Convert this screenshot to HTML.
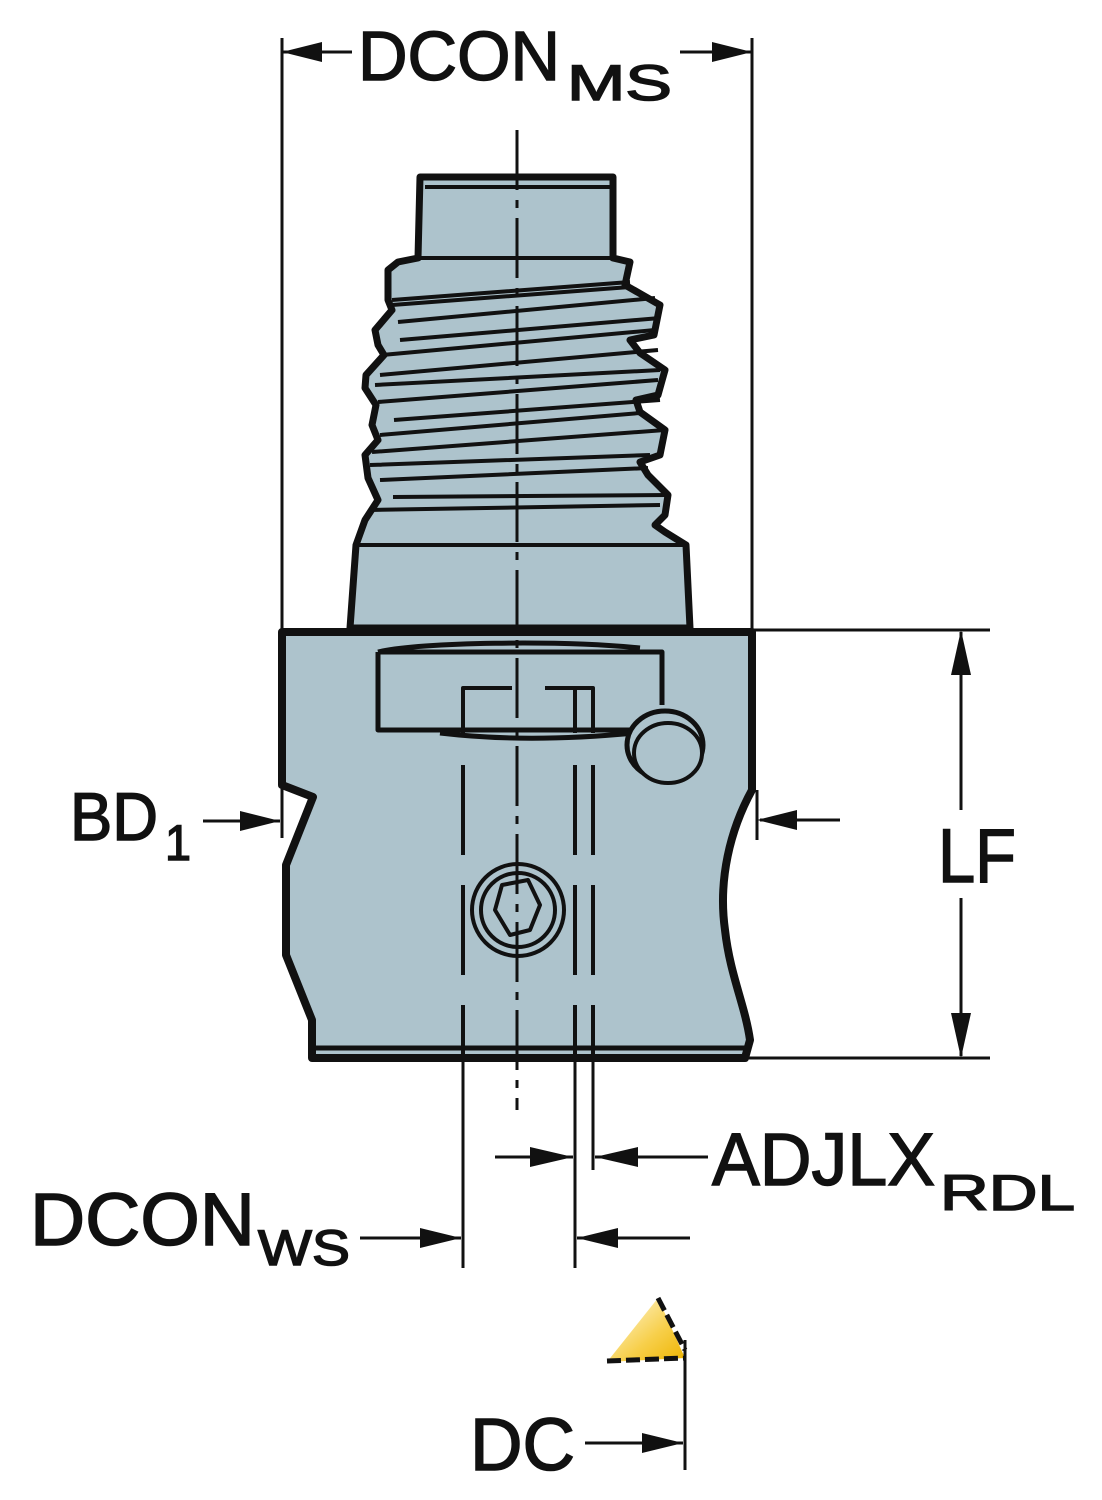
<!DOCTYPE html>
<html><head><meta charset="utf-8"><style>
html,body{margin:0;padding:0;background:#fff;}
svg{display:block;}
text{font-family:"Liberation Sans",Arial,sans-serif;fill:#111;stroke:#111;stroke-width:1.5px;}
</style></head><body>
<svg width="1102" height="1500" viewBox="0 0 1102 1500" xmlns="http://www.w3.org/2000/svg">
<defs>
<linearGradient id="ins" x1="0" y1="0" x2="1" y2="1">
<stop offset="0" stop-color="#fffbe8"/><stop offset="0.6" stop-color="#f7cf4a"/><stop offset="1" stop-color="#eeb400"/>
</linearGradient>
</defs>
<g stroke="#111" stroke-linejoin="round" fill="#adc3cc">
<path stroke-width="7" d="M420,177 L613,177 L613,258 L630,262 L625,285 L660,305 L654,335 L630,340 L640,353 L665,370 L658,395 L636,400 L640,412 L665,430 L660,455 L640,462 L648,475 L668,495 L665,515 L655,525 L665,532 L686,545 L690,628 L350,628 L356,545 L365,520 L378,500 L368,478 L365,455 L378,440 L372,425 L376,405 L365,388 L366,375 L384,355 L378,345 L375,330 L392,310 L388,300 L388,270 L398,262 L418,258 Z"/>
<path fill="none" stroke-width="4" d="M418,258 L613,258 M425,187 L613,187 M392,305 L630,287 M392,300 L630,282 M398,322 L655,298 M400,340 L660,318 M382,355 L655,330 M380,375 L658,350 M375,385 L660,370 M378,402 L658,380 M394,420 L660,400 M380,435 L640,413 M372,452 L665,430 M370,465 L650,455 M380,480 L648,468 M393,497 L668,495 M370,510 L660,505 M357,545 L686,545"/>
<path stroke-width="8" d="M282,632 L752,632 L752,790 C730,830 718,880 725,930 C730,975 745,1005 750,1040 L745,1058 L312,1058 L312,1020 L286,955 L286,865 L313,797 L282,785 Z"/>
<path fill="none" stroke-width="5" d="M312,1048 L745,1048"/>
<path fill="none" stroke-width="5" d="M378,652 L662,652 L662,705 M378,652 L378,730 L640,730 M378,652 C420,642 560,640 640,648 M440,733 C500,740 560,740 635,733"/>
<path fill="none" stroke-width="4" d="M463,735 L463,688 L512,688 M545,688 L593,688 L593,733 M575,688 L575,733"/>
<ellipse cx="665" cy="745" rx="38" ry="34" stroke-width="5"/>
<ellipse cx="668" cy="753" rx="34" ry="30" stroke-width="4"/>
<circle cx="518" cy="910" r="46" stroke-width="4"/>
<circle cx="518" cy="910" r="37" stroke-width="4"/>
<polygon fill="none" stroke-width="4" points="502,885 528,880 540,905 530,930 510,935 495,910"/>
</g>
<g stroke="#111" fill="none">
<path stroke-width="3" d="M517,130 L517,1110" stroke-dasharray="60,10,8,10"/>
<path stroke-width="4" stroke-dasharray="90,30" d="M463,765 L463,1058 M575,765 L575,1058 M593,765 L593,1058"/>
<path stroke-width="3" d="M463,1058 L463,1268 M575,1058 L575,1268 M593,1058 L593,1170"/>
<path stroke-width="3" d="M282,38 L282,630 M752,38 L752,630 M282,52 L352,52 M680,52 L752,52"/>
<path stroke-width="3" d="M752,630 L990,630 M745,1058 L990,1058 M961,632 L961,810 M961,898 L961,1056"/>
<path stroke-width="3" d="M282,780 L282,838 M203,821 L280,821 M757,790 L757,840 M760,820 L840,820"/>
<path stroke-width="3" d="M495,1157 L573,1157 M595,1157 L708,1157"/>
<path stroke-width="3" d="M360,1238 L461,1238 M577,1238 L690,1238"/>
<path stroke-width="3" d="M685,1340 L685,1470 M585,1443 L683,1443"/>
</g>
<g fill="#111">
<polygon points="282,52 322,42 322,62"/>
<polygon points="752,52 712,42 712,62"/>
<polygon points="961,630 951,675 971,675"/>
<polygon points="961,1058 951,1013 971,1013"/>
<polygon points="280,821 240,811 240,831"/>
<polygon points="757,820 797,810 797,830"/>
<polygon points="573,1157 530,1147 530,1167"/>
<polygon points="595,1157 638,1147 638,1167"/>
<polygon points="461,1238 420,1228 420,1248"/>
<polygon points="577,1238 618,1228 618,1248"/>
<polygon points="683,1443 642,1433 642,1453"/>
</g>
<polygon points="658,1298 685,1358 607,1362" fill="url(#ins)"/>
<path d="M658,1298 L685,1350 M607,1361 L685,1358" stroke="#111" stroke-width="5" stroke-dasharray="14,5" fill="none"/>
<text x="358" y="80" font-size="70" textLength="202" lengthAdjust="spacingAndGlyphs">DCON</text>
<text x="567" y="100" font-size="50" textLength="105" lengthAdjust="spacingAndGlyphs">MS</text>
<text x="938" y="882" font-size="76" textLength="78" lengthAdjust="spacingAndGlyphs">LF</text>
<text x="70" y="840" font-size="68" textLength="88" lengthAdjust="spacingAndGlyphs">BD</text>
<text x="165" y="860" font-size="50" textLength="26" lengthAdjust="spacingAndGlyphs">1</text>
<text x="712" y="1185" font-size="74" textLength="223" lengthAdjust="spacingAndGlyphs">ADJLX</text>
<text x="940" y="1210" font-size="50" textLength="135" lengthAdjust="spacingAndGlyphs">RDL</text>
<text x="30" y="1245" font-size="74" textLength="225" lengthAdjust="spacingAndGlyphs">DCON</text>
<text x="258" y="1265" font-size="50" textLength="92" lengthAdjust="spacingAndGlyphs">WS</text>
<text x="470" y="1470" font-size="74" textLength="105" lengthAdjust="spacingAndGlyphs">DC</text>
</svg>
</body></html>
